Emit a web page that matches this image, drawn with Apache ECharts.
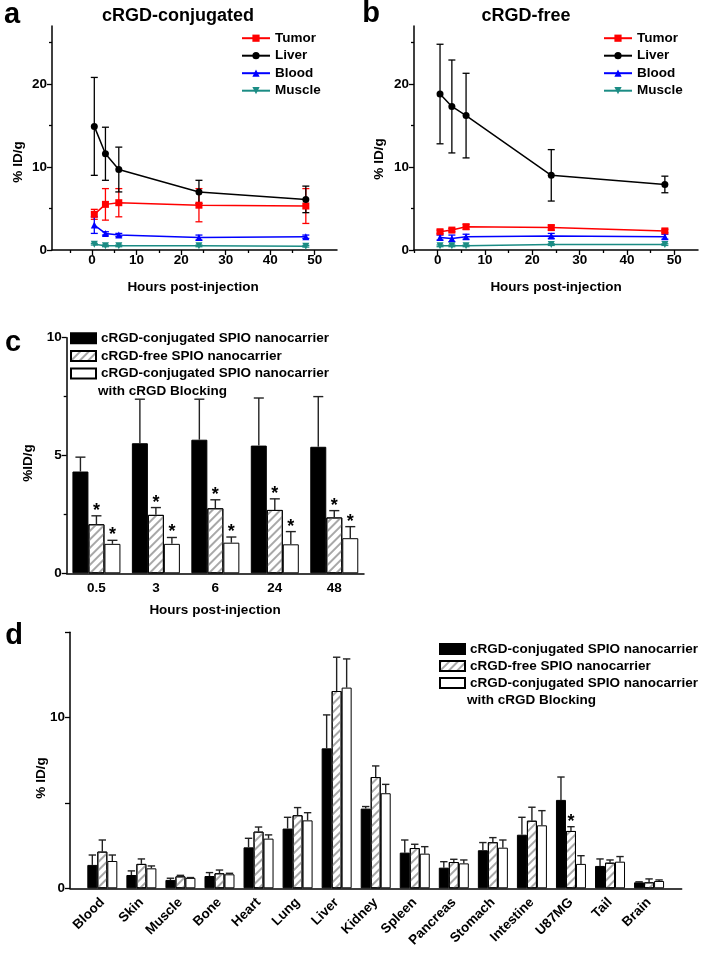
<!DOCTYPE html>
<html><head><meta charset="utf-8">
<script src="https://cdn.jsdelivr.net/npm/echarts@6/dist/echarts.min.js"></script>
<style>html,body{margin:0;padding:0;background:#fff}#c{width:706px;height:954px}</style>
</head><body><div id="c"></div>
<script>
// ---------- data ----------
const hours = [0.5, 3, 6, 24, 48];
const aTumor = [4.3, 5.5, 5.7, 5.4, 5.3];
const aTumorSd = [0.6, 1.9, 1.7, 2.0, 2.1];
const aLiver = [14.9, 11.6, 9.7, 7.0, 6.1];
const aLiverSd = [5.9, 3.2, 2.7, 1.4, 1.6];
const aBlood = [3.0, 2.0, 1.8, 1.5, 1.6];
const aBloodSd = [1.0, 0.2, 0.2, 0.3, 0.2];
const aMuscle = [0.7, 0.5, 0.5, 0.5, 0.45];
const aMuscleSd = [0.1, 0.1, 0.1, 0.1, 0.1];

const bTumor = [2.2, 2.4, 2.8, 2.7, 2.3];
const bTumorSd = [0.2, 0.2, 0.3, 0.3, 0.2];
const bLiver = [18.8, 17.3, 16.2, 9.0, 7.9];
const bLiverSd = [6.0, 5.6, 5.1, 3.1, 1.0];
const bBlood = [1.5, 1.4, 1.6, 1.7, 1.6];
const bBloodSd = [0.3, 0.4, 0.3, 0.3, 0.3];
const bMuscle = [0.5, 0.5, 0.5, 0.65, 0.65];
const bMuscleSd = [0.1, 0.1, 0.1, 0.1, 0.1];

const timeCats = ['0.5', '3', '6', '24', '48'];
const cConj = [4.32, 5.52, 5.67, 5.42, 5.37];
const cConjSd = [0.61, 1.87, 1.72, 2.02, 2.13];
const cFree = [2.08, 2.48, 2.76, 2.69, 2.37];
const cFreeSd = [0.36, 0.31, 0.36, 0.47, 0.29];
const cBlock = [1.25, 1.25, 1.30, 1.23, 1.49];
const cBlockSd = [0.15, 0.27, 0.24, 0.54, 0.49];
const cStarFree = [1, 1, 1, 1, 1];
const cStarBlock = [1, 1, 1, 1, 1];

const organs = ['Blood', 'Skin', 'Muscle', 'Bone', 'Heart', 'Lung', 'Liver', 'Kidney', 'Spleen', 'Pancreas', 'Stomach', 'Intestine', 'U87MG', 'Tail', 'Brain'];
const dConj = [1.37, 0.78, 0.49, 0.72, 2.40, 3.50, 8.20, 4.67, 2.09, 1.21, 2.23, 3.14, 5.18, 1.31, 0.35];
const dConjSd = [0.58, 0.24, 0.10, 0.20, 0.53, 0.66, 1.96, 0.12, 0.74, 0.35, 0.45, 1.02, 1.34, 0.41, 0.03];
const dFree = [2.15, 1.43, 0.70, 0.88, 3.32, 4.28, 11.56, 6.52, 2.36, 1.54, 2.70, 3.96, 3.36, 1.50, 0.35];
const dFreeSd = [0.68, 0.29, 0.06, 0.19, 0.27, 0.45, 1.98, 0.65, 0.22, 0.16, 0.27, 0.79, 0.25, 0.16, 0.20];
const dBlock = [1.60, 1.17, 0.61, 0.82, 2.91, 3.98, 11.76, 5.57, 2.03, 1.46, 2.38, 3.69, 1.43, 1.56, 0.43];
const dBlockSd = [0.35, 0.14, 0.02, 0.06, 0.22, 0.45, 1.68, 0.52, 0.41, 0.20, 0.45, 0.86, 0.48, 0.30, 0.06];
const dStarFree = [0, 0, 0, 0, 0, 0, 0, 0, 0, 0, 0, 0, 1, 0, 0];

const hourTicks = [0, 10, 20, 30, 40, 50];
const hourMinor = [-5, 5, 15, 25, 35, 45];
const abTicks = [0, 10, 20];
const abMinor = [5, 15, 25];
const cTicks = [0, 5, 10];
const cMinor = [2.5, 7.5];
const dLabels = [0, 10];
const dTicks = [0, 5, 10, 15];

const N1 = 'cRGD-conjugated SPIO nanocarrier';
const N2 = 'cRGD-free SPIO nanocarrier';
const N3 = 'cRGD-conjugated SPIO nanocarrier with cRGD Blocking';

// ---------- styles ----------
const FF = '"Liberation Sans", Arial, Helvetica, sans-serif';
const AX = { lineStyle: { color: '#000', width: 1.5 } };
const LBL = { color: '#000', fontFamily: FF, fontWeight: 'bold', fontSize: 13.5 };
const TICK = { lineStyle: { color: '#000', width: 1.3 } };
const COL = { Tumor: '#ff0000', Liver: '#000000', Blood: '#0000ff', Muscle: '#1b8c84' };
const SYM = { Tumor: 'rect', Liver: 'circle', Blood: 'triangle', Muscle: 'path://M0,0 L10,0 L5,9 Z' };
const HATCH = { symbol: 'rect', symbolSize: 1, color: '#a8a8a8', dashArrayX: [1, 0], dashArrayY: [1.2, 3.8], rotation: -Math.PI / 4 };

function valAxis(grid, min, max, labels, ticks, pos, margin) {
  return {
    type: 'value', gridIndex: grid, min: min, max: max, position: pos,
    axisLine: Object.assign({ show: true, onZero: false }, AX),
    axisTick: Object.assign({ show: true, length: 5, inside: false, customValues: ticks }, TICK),
    axisLabel: Object.assign({ show: true, margin: margin, customValues: labels }, LBL),
    splitLine: { show: false }
  };
}
function minorAxis(grid, min, max, ticks, pos) {
  return {
    type: 'value', gridIndex: grid, min: min, max: max, position: pos,
    axisLine: { show: false, onZero: false },
    axisTick: Object.assign({ show: true, length: 3, customValues: ticks }, TICK),
    axisLabel: { show: false },
    splitLine: { show: false }
  };
}

const xAxis = [
  valAxis(0, -9, 55, hourTicks, hourTicks, 'bottom', 3),
  minorAxis(0, -9, 55, hourMinor, 'bottom'),
  valAxis(1, -5, 55, hourTicks, hourTicks, 'bottom', 3),
  minorAxis(1, -5, 55, hourMinor, 'bottom'),
  { type: 'category', gridIndex: 2, data: timeCats, boundaryGap: true,
    axisLine: AX, axisTick: { show: false }, axisLabel: Object.assign({ margin: 8 }, LBL) },
  { type: 'category', gridIndex: 3, data: organs, boundaryGap: true,
    axisLine: { show: false }, axisTick: { show: false },
    axisLabel: Object.assign({ margin: 12, rotate: 45, interval: 0 }, LBL) },
  { type: 'value', gridIndex: 4, min: 0, max: 1, axisLine: Object.assign({ onZero: false }, AX),
    axisTick: { show: false }, axisLabel: { show: false }, splitLine: { show: false } }
];
const yAxis = [
  valAxis(0, 0, 27, abTicks, abTicks, 'left', 5),
  minorAxis(0, 0, 27, abMinor, 'left'),
  valAxis(1, 0, 27, abTicks, abTicks, 'left', 5),
  minorAxis(1, 0, 27, abMinor, 'left'),
  valAxis(2, 0, 10, cTicks, cTicks, 'left', 5),
  minorAxis(2, 0, 10, cMinor, 'left'),
  { type: 'value', gridIndex: 3, min: 0, max: 15, show: false, splitLine: { show: false } },
  valAxis(4, 0, 15, dLabels, dTicks, 'left', 5)
];

const series = [];
function addLine(name, vals, sd, xi, yi) {
  const c = COL[name];
  series.push({
    type: 'line', name: name, xAxisIndex: xi, yAxisIndex: yi,
    data: hours.map((h, i) => [h, vals[i]]),
    symbol: SYM[name], symbolSize: 7, color: c,
    itemStyle: { color: c }, lineStyle: { color: c, width: 1.5 }, z: 3, animation: false
  });
  series.push({
    type: 'custom', name: name + ' err', xAxisIndex: xi, yAxisIndex: yi, silent: true, z: 2,
    data: hours.map((h, i) => [h, vals[i], sd[i]]),
    encode: { x: 0, y: 1 },
    renderItem: function (params, api) {
      const x = api.value(0), y = api.value(1), s = api.value(2);
      const lo = api.coord([x, y - s]), hi = api.coord([x, y + s]);
      const w = 3.5, st = { stroke: c, lineWidth: 1.3 };
      return { type: 'group', children: [
        { type: 'line', shape: { x1: lo[0], y1: lo[1], x2: hi[0], y2: hi[1] }, style: st },
        { type: 'line', shape: { x1: hi[0] - w, y1: hi[1], x2: hi[0] + w, y2: hi[1] }, style: st },
        { type: 'line', shape: { x1: lo[0] - w, y1: lo[1], x2: lo[0] + w, y2: lo[1] }, style: st }
      ] };
    }
  });
}
addLine('Tumor', aTumor, aTumorSd, 0, 0);
addLine('Liver', aLiver, aLiverSd, 0, 0);
addLine('Blood', aBlood, aBloodSd, 0, 0);
addLine('Muscle', aMuscle, aMuscleSd, 0, 0);
addLine('Tumor', bTumor, bTumorSd, 2, 2);
addLine('Liver', bLiver, bLiverSd, 2, 2);
addLine('Blood', bBlood, bBloodSd, 2, 2);
addLine('Muscle', bMuscle, bMuscleSd, 2, 2);

const BARSTYLE = [
  { color: '#000', borderColor: '#000', borderWidth: 1 },
  { color: '#fff', borderColor: '#000', borderWidth: 1, decal: HATCH },
  { color: '#fff', borderColor: '#000', borderWidth: 1 }
];
function addBars(names, sets, sds, stars, xi, yi, bw, starSize) {
  names.forEach((nm, k) => {
    series.push({
      type: 'bar', name: nm, xAxisIndex: xi, yAxisIndex: yi, data: sets[k],
      barWidth: bw, barGap: '0%', itemStyle: BARSTYLE[k], z: 2, animation: false
    });
  });
  names.forEach((nm, k) => {
    const st = stars[k];
    series.push({
      type: 'custom', name: nm + ' err', xAxisIndex: xi, yAxisIndex: yi, silent: true, z: 4,
      data: sets[k].map((v, i) => [i, v, sds[k][i], st ? st[i] : 0]),
      encode: { x: 0, y: 1 },
      renderItem: function (params, api) {
        const i = api.value(0), v = api.value(1), s = api.value(2), star = api.value(3);
        const base = api.coord([i, v]), top = api.coord([i, v + s]);
        const x = base[0] + (k - 1) * bw;
        const w = bw * 0.22 + 1.5;
        const stl = { stroke: '#222', lineWidth: 1.4 };
        const ch = [
          { type: 'line', shape: { x1: x, y1: base[1], x2: x, y2: top[1] }, style: stl },
          { type: 'line', shape: { x1: x - w, y1: top[1], x2: x + w, y2: top[1] }, style: stl }
        ];
        if (star) {
          ch.push({ type: 'text', x: x, y: top[1] - 5, style: { text: '*', fill: '#000',
            font: 'bold ' + starSize + 'px ' + FF, align: 'center', verticalAlign: 'middle' } });
        }
        return { type: 'group', children: ch };
      }
    });
  });
}
addBars([N1, N2, N3], [cConj, cFree, cBlock], [cConjSd, cFreeSd, cBlockSd], [null, cStarFree, cStarBlock], 4, 4, 16, 18);
addBars([N1, N2, N3], [dConj, dFree, dBlock], [dConjSd, dFreeSd, dBlockSd], [null, dStarFree, null], 5, 6, 10, 18);

const LEGTXT = { color: '#000', fontFamily: FF, fontWeight: 'bold', fontSize: 13.5, lineHeight: 14 };
function lineLegend(left) {
  return { orient: 'vertical', left: left, top: 31.2, padding: 0, itemWidth: 28, itemHeight: 9, itemGap: 3.5,
    data: ['Tumor', 'Liver', 'Blood', 'Muscle'], textStyle: LEGTXT, selectedMode: false };
}
function barLegend(left, top, gap) {
  return { orient: 'vertical', left: left, top: top, padding: 0, itemWidth: 25, itemHeight: 10, itemGap: gap,
    icon: 'rect', data: [N1, N2, N3], textStyle: LEGTXT, selectedMode: false,
    formatter: function (n) { return n === N3 ? 'cRGD-conjugated SPIO nanocarrier' : n; } };
}
const legend = [lineLegend(241), lineLegend(603), barLegend(70, 331.2, 3.7), barLegend(439, 642, 3)];

function txt(x, y, s, size, rot, align) {
  return { type: 'text', x: x, y: y, rotation: rot || 0, silent: true,
    style: { text: s, fill: '#000', font: 'bold ' + size + 'px ' + FF, align: align || 'center', verticalAlign: 'middle' } };
}
const graphic = [
  txt(12, 15, 'a', 29), txt(371, 14, 'b', 29), txt(13, 343, 'c', 29), txt(14, 636, 'd', 29),
  txt(178, 16, 'cRGD-conjugated', 18), txt(526, 16, 'cRGD-free', 18),
  txt(18, 162, '% ID/g', 13.5, Math.PI / 2), txt(379, 159, '% ID/g', 13.5, Math.PI / 2),
  txt(28, 463, '%ID/g', 13.5, Math.PI / 2), txt(41, 778, '% ID/g', 13.5, Math.PI / 2),
  txt(193, 287, 'Hours post-injection', 13.5), txt(556, 287, 'Hours post-injection', 13.5),
  txt(215, 610, 'Hours post-injection', 13.5),
  txt(98, 391, 'with cRGD Blocking', 13.5, 0, 'left'),
  txt(467, 700, 'with cRGD Blocking', 13.5, 0, 'left')
];

const option = {
  animation: false,
  backgroundColor: '#fff',
  grid: [
    { left: 52, top: 26, width: 285, height: 224 },
    { left: 414, top: 26, width: 284, height: 224 },
    { left: 66.7, top: 337.7, width: 297.3, height: 235.6 },
    { left: 82.8, top: 632.3, width: 585.8, height: 256 },
    { left: 70, top: 632.3, width: 611.7, height: 256 }
  ],
  xAxis: xAxis, yAxis: yAxis, series: series, legend: legend, graphic: graphic
};
const chart = echarts.init(document.getElementById('c'), null, { renderer: 'canvas' });
chart.setOption(option);
</script></body></html>
